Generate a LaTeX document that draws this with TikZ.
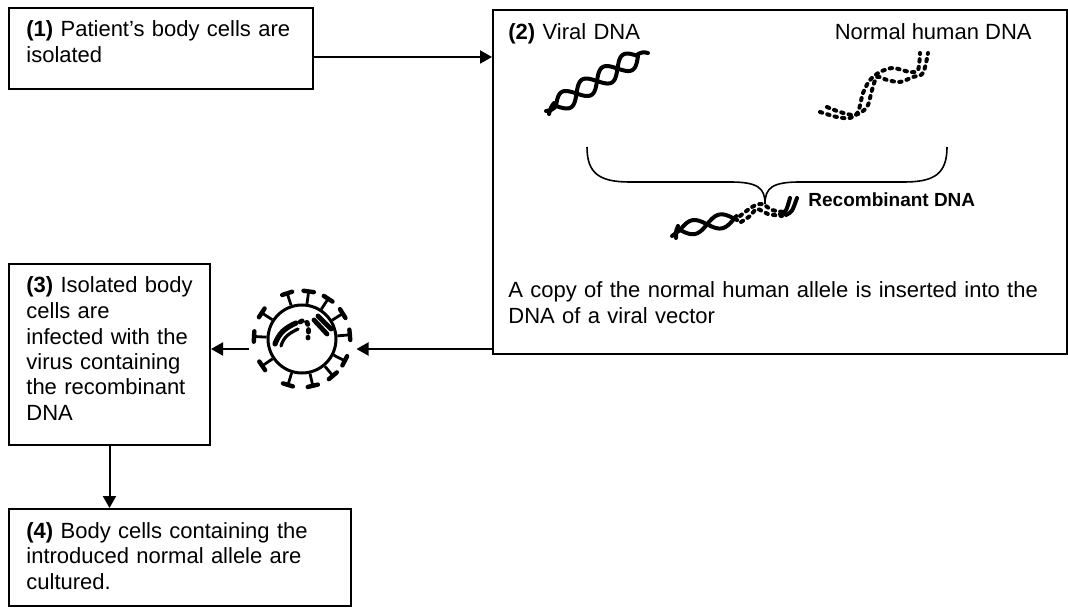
\documentclass[tikz,border=0pt]{standalone}
\usepackage{fontspec}
\setmainfont{Liberation Sans}
\usetikzlibrary{arrows.meta,calc}
\begin{document}
\begin{tikzpicture}[x=0.5pt,y=-0.5pt,
  box/.style={draw, line width=1pt, rectangle, inner sep=0pt, anchor=north west},
  txt/.style={anchor=base west, inner sep=0pt, text width=300pt, align=left,
    font=\fontsize{11}{12.75}\selectfont},
  arr/.style={line width=1pt, -{Triangle[length=6pt,width=6.5pt]}},
  solidstrand/.style={line width=2pt, line cap=round, line join=round},
  dotstrand/.style={line width=2pt, line cap=round, dash pattern=on 1.2pt off 2.6pt},
  bracestyle/.style={line width=0.8pt},
  spikestem/.style={line width=1.4pt},
  spikecap/.style={line width=2.2pt, line cap=round}
]
\useasboundingbox (0,0) rectangle (1068,608);

% boxes
\node[box, minimum width=152pt, minimum height=40.5pt] (b1) at (8,7) {};
\node[box, minimum width=287pt, minimum height=172pt] (b2) at (492,9) {};
\node[box, minimum width=100.5pt, minimum height=90.5pt] (b3) at (8,263) {};
\node[box, minimum width=171pt, minimum height=48.5pt] (b4) at (8,508) {};

% texts
\node[txt] (t1) at (26,37) {\textbf{(1)} Patient's body cells are\\isolated};
\node[txt] (t2) at (508,40) {\textbf{(2)} Viral DNA};
\node[anchor=base east, inner sep=0pt, font=\fontsize{11}{12.75}\selectfont] (t2b) at (1032,40) {Normal human DNA};
\node[txt] (t2c) at (508,298) {A copy of the normal human allele is inserted into the\\DNA of a viral vector};
\node[anchor=base west, inner sep=0pt, font=\fontsize{9.5}{11}\selectfont\bfseries] (t2d) at (808,207) {Recombinant DNA};
\node[txt] (t3) at (26,293) {\textbf{(3)} Isolated body\\cells are\\infected with the\\virus containing\\the recombinant\\DNA};
\node[txt] (t4) at (26,538) {\textbf{(4)} Body cells containing the\\introduced normal allele are\\cultured.};

% viral DNA helix
\draw[solidstrand] plot[domain=0:96,samples=90,smooth]
  ({556+0.854*\x+0.520*9*sin(7.5*\x)},{106-0.520*\x+0.854*9*sin(7.5*\x)});
\draw[solidstrand] plot[domain=0:96,samples=90,smooth]
  ({556+0.854*\x-0.520*9*sin(7.5*\x)},{106-0.520*\x-0.854*9*sin(7.5*\x)});
\draw[solidstrand] (556,106) .. controls (552,110) .. (546,111);
\draw[solidstrand] (554,103) .. controls (551,107) .. (549,114);
\draw[solidstrand] (638,54) .. controls (643,52) .. (648,53);

% normal human DNA (dotted)
\draw[dotstrand] plot[smooth] coordinates {(820,112) (837,117) (850,118) (858,112) (863,93) (870,80) (880,72) (893,68) (910,72) (918,70) (920,53)};
\draw[dotstrand] plot[smooth] coordinates {(827,107) (840,112) (855,115) (867,107) (872,90) (877,77) (887,80) (900,82) (913,77) (923,73) (928,53)};

% brace
\draw[bracestyle] (587,147) .. controls (587,174) and (600,182) .. (630,182) -- (730,182) .. controls (758,182) and (765,188) .. (765,204);
\draw[bracestyle] (947,147) .. controls (947,174) and (934,182) .. (904,182) -- (800,182) .. controls (772,182) and (765,188) .. (765,204);

% recombinant DNA
\draw[solidstrand] plot[domain=0:58,samples=60,smooth]
  ({680+0.978*\x+0.206*7*sin(6.5*\x)},{230-0.206*\x+0.978*7*sin(6.5*\x)});
\draw[solidstrand] plot[domain=0:58,samples=60,smooth]
  ({680+0.978*\x-0.206*7*sin(6.5*\x)},{230-0.206*\x-0.978*7*sin(6.5*\x)});
\draw[solidstrand] (680,230) .. controls (676,233) .. (672,236);
\draw[solidstrand] (678,226) .. controls (676,230) .. (676,238);
\draw[dotstrand] plot[smooth] coordinates {(740,216) (752,207) (762,204) (772,210) (784,212)};
\draw[dotstrand] plot[smooth] coordinates {(741,222) (750,216) (757,209) (768,214) (782,216)};
\draw[solidstrand] (780,214) .. controls (786,212) .. (790,198);
\draw[solidstrand] (786,215) .. controls (792,212) .. (797,198);

% virus
\node[circle, draw, line width=1.5pt, minimum size=34pt, inner sep=0pt] (virus) at (302,339) {};
\foreach \a in {108,82,57,32,5,-27,-50,-77,-107,-146,177,147}{
  \draw[spikestem] (virus.\a) -- ($(virus.center)+(\a:24pt)$);
  \draw[spikecap] ($(virus.center)+(\a:24pt)+(\a+90:2.6pt)$) -- ($(virus.center)+(\a:24pt)+(\a-90:2.6pt)$);
}
\draw[solidstrand, line width=2.6pt] (275,344) .. controls (279,333) and (285,328) .. (296,323);
\draw[solidstrand, line width=1.6pt] (281,346) .. controls (284,336) and (290,333) .. (298,329);
\draw[dotstrand, line width=2.4pt] (300,322) .. controls (306,318) and (310,322) .. (308,338);
\draw[solidstrand, line width=2.4pt] (314,320) -- (327,334);
\draw[solidstrand, line width=2.4pt] (318,316) -- (331,329);

% connectors
\draw[arr] (b1.east |- 0,57) -- (b2.west |- 0,57);
\draw[arr] (b2.west |- 0,349) -- ([xshift=9.5pt]virus.east |- 0,349);
\draw[arr] ([xshift=-9pt]virus.west |- 0,349) -- (b3.east |- 0,349);
\draw[arr] (b3.south) -- (b3.south |- b4.north);
\end{tikzpicture}
\end{document}
